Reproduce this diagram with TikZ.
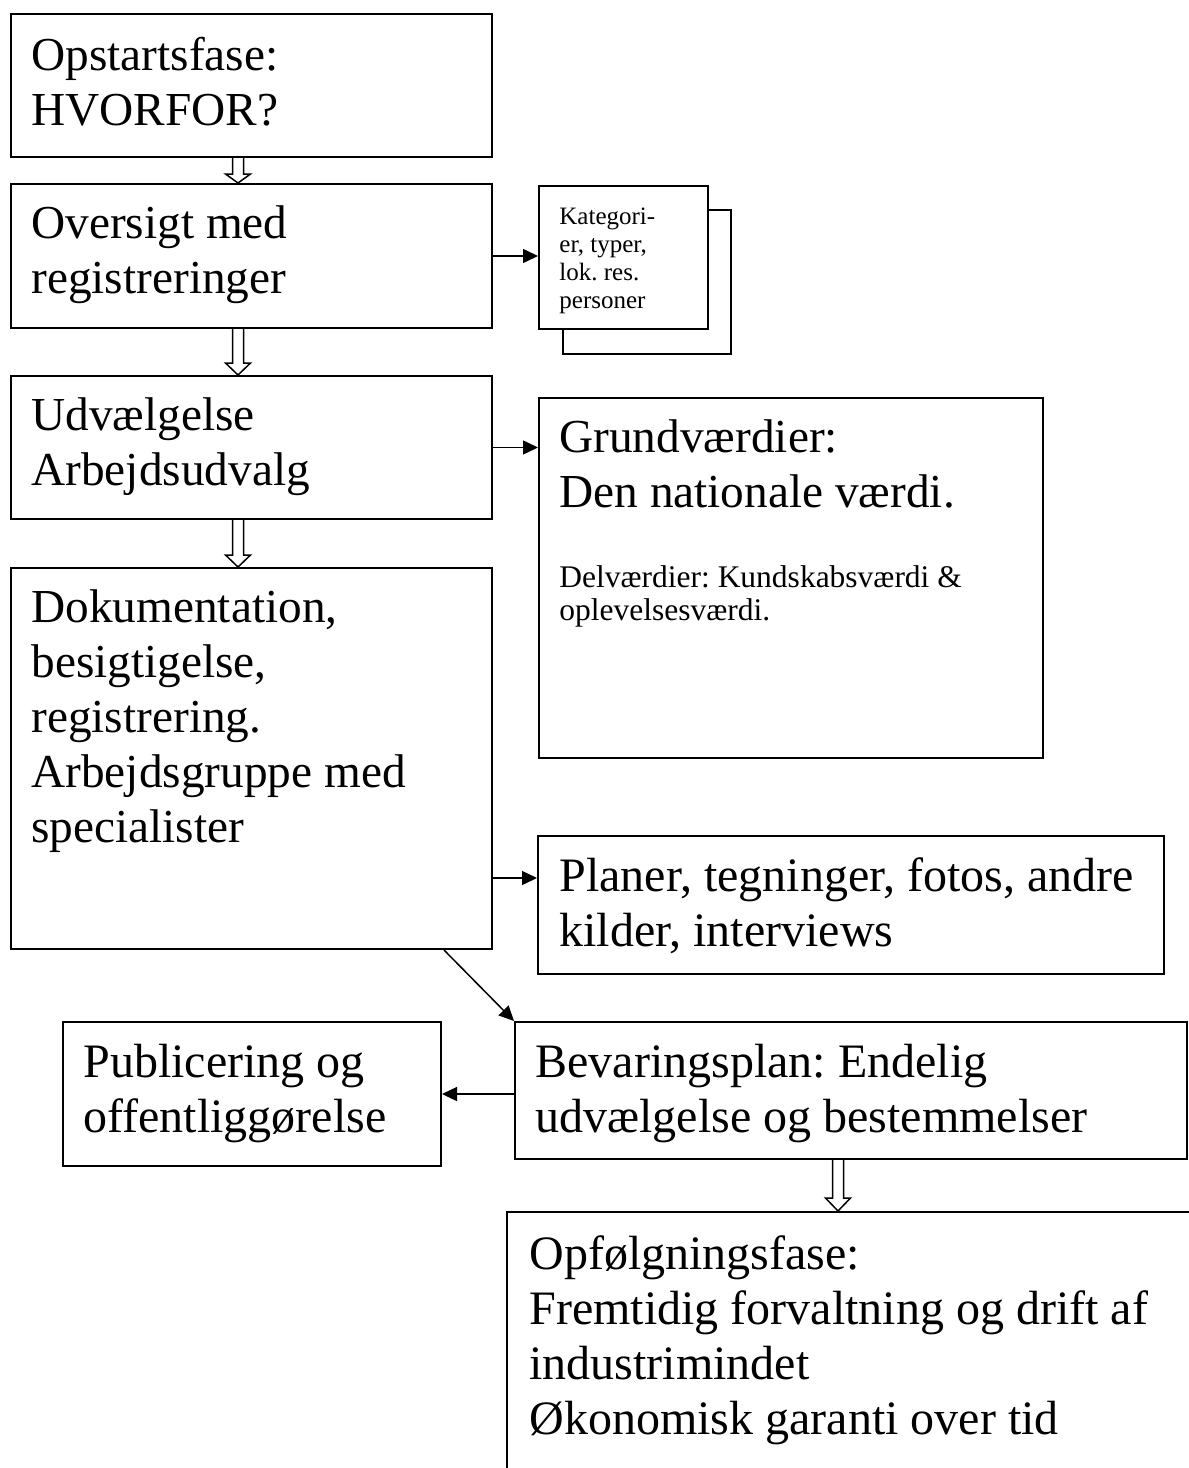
\documentclass[tikz,border=0pt]{standalone}
\usepackage{fontspec}
\setmainfont{Liberation Serif}
\usetikzlibrary{arrows.meta, positioning, calc}
\frenchspacing

\newcommand{\topstrut}{\rule{0pt}{1em}}
\newcommand{\hollowarrow}[3]{%
  \draw[line width=0.75pt] ($(#1)+(-5.5,0)$) -- ($(#2)+(-5.5,-#3)$) -- ($(#2)+(-12.5,-#3)$) -- (#2)
    -- ($(#2)+(12.5,-#3)$) -- ($(#2)+(5.5,-#3)$) -- ($(#1)+(5.5,0)$);
}

\begin{document}
\begin{tikzpicture}[x=0.5pt, y=-0.5pt,
    box/.style={draw, line width=1pt, fill=white, inner sep=0pt, anchor=north west},
    bigtxt/.style={anchor=north west, inner sep=0pt, align=left,
      font=\fontsize{23.65}{27.5}\selectfont},
    lowtxt/.style={bigtxt, font=\fontsize{24}{27.5}\selectfont},
    midtxt/.style={bigtxt, font=\fontsize{15.75}{16.5}\selectfont},
    smalltxt/.style={bigtxt, font=\fontsize{12.5}{14}\selectfont},
    arr/.style={-{Triangle[length=7.5pt, width=7pt]}, line width=0.75pt}
  ]
    \useasboundingbox (0,0) rectangle (1189,1468);

    % left column
    \node[box, minimum width=240.5pt, minimum height=71.5pt] (opstart) at (10,13) {};
    \node[box, minimum width=240.5pt, minimum height=72pt] (oversigt) at (10,183) {};
    \node[box, minimum width=240.5pt, minimum height=71.5pt] (udv) at (10,375) {};
    \node[box, minimum width=240.5pt, minimum height=190.5pt] (dok) at (10,567) {};

    % right column
    \node[box, minimum width=84pt, minimum height=72pt] (katback) at (562,209) {};
    \node[box, minimum width=84.5pt, minimum height=71.5pt] (kat) at (538,185) {};
    \node[box, minimum width=252pt, minimum height=180pt] (grund) at (538,397) {};
    \node[box, minimum width=313pt, minimum height=69pt] (planer) at (537,835) {};
    \node[box, minimum width=336pt, minimum height=68.5pt] (bev) at (514,1021) {};
    \node[box, minimum width=189pt, minimum height=72pt] (pub) at (62,1021) {};
    \node[box, minimum width=400pt, minimum height=200pt] (opf) at (506,1211) {};

    % texts
    \node[bigtxt] (opstart-t) at ($(opstart.north west)+(21,9.5)$) {\topstrut Opstartsfase:\\HVORFOR?};
    \node[bigtxt] (oversigt-t) at ($(oversigt.north west)+(21,7.7)$) {\topstrut Oversigt med\\registreringer};
    \node[bigtxt] (udv-t) at ($(udv.north west)+(21,7.7)$) {\topstrut Udvælgelse\\Arbejdsudvalg};
    \node[bigtxt] (dok-t) at ($(dok.north west)+(21,7.7)$) {\topstrut Dokumentation,\\besigtigelse,\\registrering.\\Arbejdsgruppe med\\specialister};
    \node[smalltxt] (kat-t) at ($(kat.north west)+(21,14)$) {\topstrut Kategori-\\er, typer,\\lok. res.\\personer};
    \node[bigtxt] (grund-t) at ($(grund.north west)+(21,7.7)$) {\topstrut Grundværdier:\\Den nationale værdi.};
    \node[midtxt] (delv-t) at ($(grund.north west)+(21,158.5)$) {\topstrut Delværdier: Kundskabsværdi \&\\oplevelsesværdi.};
    \node[lowtxt] (planer-t) at ($(planer.north west)+(22,7.7)$) {\topstrut Planer, tegninger, fotos, andre\\kilder, interviews};
    \node[lowtxt] (bev-t) at ($(bev.north west)+(21,7.7)$) {\topstrut Bevaringsplan: Endelig\\udvælgelse og bestemmelser};
    \node[lowtxt] (pub-t) at ($(pub.north west)+(21,7.7)$) {\topstrut Publicering og\\offentliggørelse};
    \node[lowtxt] (opf-t) at ($(opf.north west)+(23,10)$) {\topstrut Opfølgningsfase:\\Fremtidig forvaltning og drift af\\industrimindet\\Økonomisk garanti over tid};

    % connectors
    \coordinate (ax) at (238,0);
    \coordinate (bx) at (838,0);
    \hollowarrow{ax |- opstart.south}{ax |- oversigt.north}{9}
    \hollowarrow{ax |- oversigt.south}{ax |- udv.north}{12}
    \hollowarrow{ax |- udv.south}{ax |- dok.north}{12}
    \hollowarrow{bx |- bev.south}{bx |- opf.north}{13}

    \draw[arr] (oversigt.east) -- (oversigt.east -| kat.west);
    \draw[arr] (udv.east) -- (udv.east -| grund.west);
    \coordinate (dokout) at ($(dok.east)+(0,119.5)$);
    \draw[arr] (dokout) -- (dokout -| planer.west);
    \draw[arr] ($(dok.south east)+(-49,0)$) -- (bev.north west);
    \draw[arr] (bev.west |- pub.east) -- (pub.east);
\end{tikzpicture}
\end{document}
